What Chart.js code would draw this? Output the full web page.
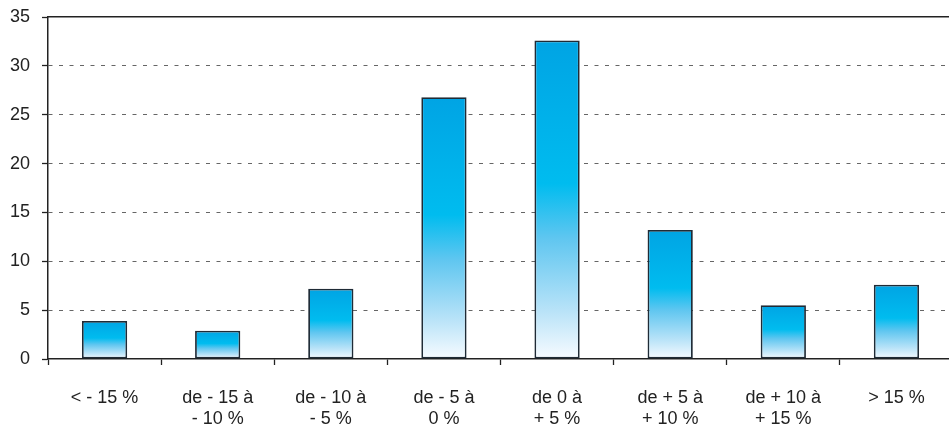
<!DOCTYPE html>
<html>
<head>
<meta charset="utf-8">
<script src="https://cdn.jsdelivr.net/npm/chart.js@4/dist/chart.umd.min.js"></script>
<style>
  html, body { margin: 0; padding: 0; background: #fff; overflow: hidden; }
  #wrap { width: 953px; height: 425px; }
</style>
</head>
<body>
<div id="wrap"><canvas id="c" width="953" height="425"></canvas></div>
<script>
// Répartition par tranche de variation
const categories = [
  ['< - 15 %'],
  ['de - 15 à', '- 10 %'],
  ['de - 10 à', '- 5 %'],
  ['de - 5 à', '0 %'],
  ['de 0 à', '+ 5 %'],
  ['de + 5 à', '+ 10 %'],
  ['de + 10 à', '+ 15 %'],
  ['> 15 %']
];
const values = [3.9, 2.9, 7.2, 26.8, 32.6, 13.2, 5.5, 7.6];
const yTicks = [0, 5, 10, 15, 20, 25, 30, 35];

const FONT = { family: '"Liberation Sans", Arial, sans-serif', size: 18, lineHeight: 1.15 };

// Vertical gradient per bar: deep blue at top, cyan mid, white at the base
function barFill(c) {
  const chart = c.chart;
  const ys = chart.scales && chart.scales.y;
  if (c.type !== 'data' || !ys || !chart.chartArea) return '#00a8e8';
  const top = ys.getPixelForValue(c.raw);
  const base = ys.getPixelForValue(0);
  if (!isFinite(top) || !isFinite(base) || top === base) return '#00a8e8';
  const g = chart.ctx.createLinearGradient(0, top, 0, base);
  g.addColorStop(0, '#00a4e4');
  g.addColorStop(0.45, '#00bcef');
  g.addColorStop(0.62, '#5fc6f0');
  g.addColorStop(0.85, '#b9e3f8');
  g.addColorStop(1, '#f7fbff');
  return g;
}

// Dotted guide lines only between the axis and the top frame
function gridColor(c) {
  const v = c.tick ? c.tick.value : null;
  return (v === 0 || v === 35) ? 'rgba(0,0,0,0)' : '#666';
}

new Chart(document.getElementById('c'), {
  type: 'bar',
  data: {
    labels: categories,
    datasets: [{
      data: values,
      backgroundColor: barFill,
      borderColor: '#1f2b36',
      borderWidth: 1.8,
      borderSkipped: false,
      barPercentage: 0.4,
      categoryPercentage: 1
    }]
  },
  options: {
    responsive: false,
    animation: false,
    layout: { padding: 0 },
    plugins: { legend: { display: false }, tooltip: { enabled: false } },
    scales: {
      x: {
        position: 'bottom',
        offset: true,
        grid: {
          display: true,
          offset: true,
          drawOnChartArea: false,
          drawTicks: true,
          tickLength: 6,
          tickColor: '#222',
          tickWidth: 1.3
        },
        border: { display: true, color: '#222', width: 1.5 },
        ticks: {
          color: '#222',
          font: FONT,
          padding: 23,
          maxRotation: 0,
          autoSkip: false
        },
        afterFit: (s) => { s.height = 66; s.paddingLeft = 0; s.paddingRight = 0; }
      },
      xTop: {
        type: 'category',
        position: 'top',
        labels: categories,
        grid: { display: false },
        border: { display: true, color: '#222', width: 1.5 },
        ticks: { display: false },
        afterFit: (s) => { s.height = 17; s.paddingLeft = 0; s.paddingRight = 0; }
      },
      y: {
        min: 0,
        max: 35,
        afterBuildTicks: (s) => { s.ticks = yTicks.map(v => ({ value: v })); },
        grid: {
          color: gridColor,
          lineWidth: 1,
          drawTicks: true,
          tickLength: 6,
          tickColor: '#222',
          tickWidth: 1.3,
          tickBorderDash: []
        },
        border: { display: true, color: '#222', width: 1.5, dash: [4, 6.5] },
        ticks: {
          color: '#222',
          font: FONT,
          padding: 12
        },
        afterFit: (s) => { s.width = 48; s.paddingTop = 0; s.paddingBottom = 0; }
      }
    }
  }
});
</script>
</body>
</html>
